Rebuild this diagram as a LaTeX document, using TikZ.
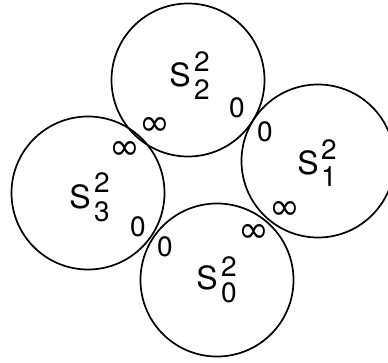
\documentclass[tikz,border=0pt]{standalone}
\usepackage{fontspec}
\setmainfont{TeX Gyre Heros}
\newfontfamily\inffont{DejaVu Sans}
\begin{document}
\begin{tikzpicture}[x=1pt,y=-1pt,
  sphere/.style={circle,draw,line width=1.7pt,inner sep=0pt,minimum size=153pt},
  bigS/.style={inner sep=0pt,font=\fontsize{32}{32}\selectfont},
  idx/.style={inner sep=0pt,font=\fontsize{28}{28}\selectfont},
  pt/.style={inner sep=0pt,font=\fontsize{28}{28}\selectfont},
  inf/.style={inner sep=0pt,font=\inffont\fontsize{37}{37}\selectfont}]
\useasboundingbox (0,0) rectangle (388,362);
\clip (0,0) rectangle (388,362);
% spheres
\node[sphere] (c2) at (188,80) {};
\node[sphere] (c1) at (318,161) {};
\node[sphere] (c3) at (88,193) {};
\node[sphere] (c0) at (217,280) {};
% labels S^2_i
\node[bigS] (l2) at (180,75) {S};
\node[idx] (l2a) at (202,62) {2};
\node[idx] (l2b) at (202,90) {2};
\node[bigS] (l1) at (308,163) {S};
\node[idx] (l1a) at (329,150) {2};
\node[idx] (l1b) at (329,177) {1};
\node[bigS] (l3) at (80,197) {S};
\node[idx] (l3a) at (102,183) {2};
\node[idx] (l3b) at (102,212) {3};
\node[bigS] (l0) at (207,278) {S};
\node[idx] (l0a) at (229,267) {2};
\node[idx] (l0b) at (229,293) {0};
% points 0 and infinity
\node[pt] (z2) at (237,108) {0};
\node[inf] (i2) at (155,126) {∞};
\node[pt] (z1) at (265,132) {0};
\node[inf] (i1) at (285,210) {∞};
\node[inf] (i3) at (125,150) {∞};
\node[pt] (z3) at (138,227) {0};
\node[pt] (z0) at (165,247) {0};
\node[inf] (i0) at (254,233) {∞};
\end{tikzpicture}
\end{document}
